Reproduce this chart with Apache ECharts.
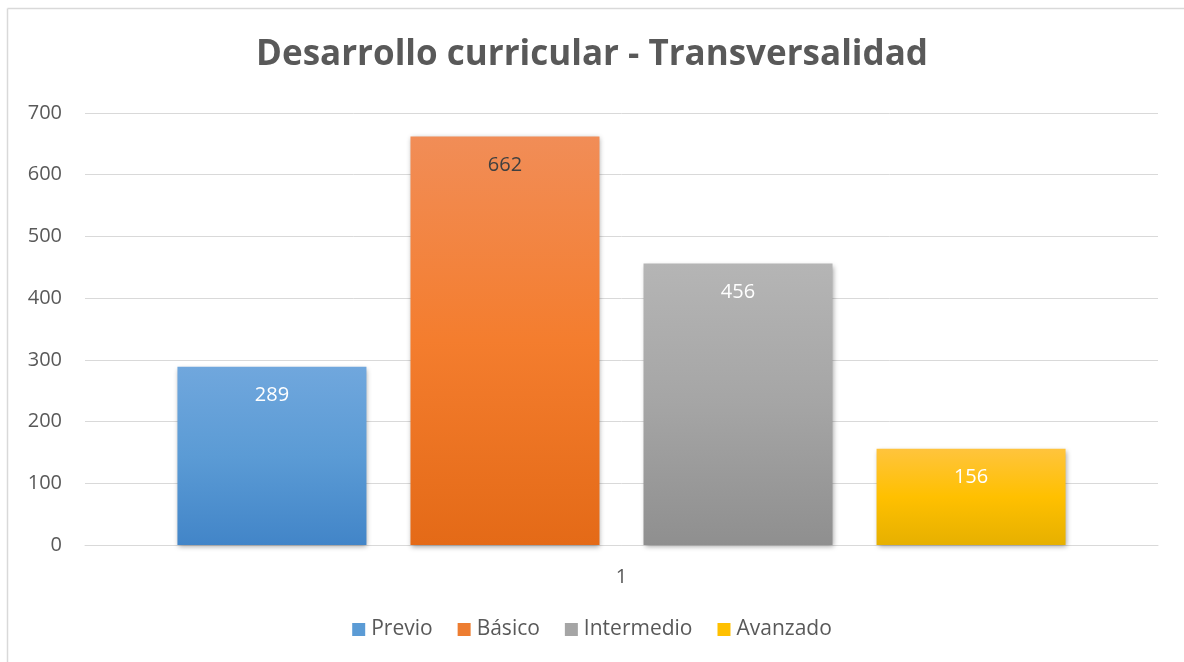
<!DOCTYPE html>
<html>
<head>
<meta charset="utf-8">
<script src="https://cdn.jsdelivr.net/npm/echarts@6/dist/echarts.min.js"></script>
<style>
html,body{margin:0;padding:0;background:#fff;}
#chart{width:1184px;height:662px;}
</style>
</head>
<body>
<div id="chart"></div>
<script>
const categories = ['1'];
const seriesNames = ['Previo', 'Básico', 'Intermedio', 'Avanzado'];
const seriesValues = [[289], [662], [456], [156]];
const yTicks = [0, 100, 200, 300, 400, 500, 600, 700];

const gradients = [
  ['#70a7dd', '#5b9bd5', '#4285c8'],
  ['#f18d57', '#f47d2e', '#e46a17'],
  ['#b5b5b5', '#a5a5a5', '#8f8f8f'],
  ['#ffc43d', '#ffc000', '#e6b000']
];
const labelColors = ['#ffffff', '#404040', '#ffffff', '#ffffff'];
const legendColors = ['#5b9bd5', '#ed7d31', '#a5a5a5', '#ffc000'];

const FONT = 'Open Sans';

const chart = echarts.init(document.getElementById('chart'));
const series = seriesNames.map((name, i) => ({
  name: name,
  type: 'bar',
  data: seriesValues[i],
  barWidth: 189,
  barGap: '23.3%',
  itemStyle: {
    color: new echarts.graphic.LinearGradient(0, 0, 0, 1, [
      {offset: 0, color: gradients[i][0]},
      {offset: 0.5, color: gradients[i][1]},
      {offset: 1, color: gradients[i][2]}
    ]),
    shadowColor: 'rgba(0,0,0,0.35)',
    shadowBlur: 5,
    shadowOffsetX: 1,
    shadowOffsetY: 2
  },
  label: {
    show: true,
    position: 'insideTop',
    distance: 19,
    color: labelColors[i],
    fontSize: 20,
    fontFamily: FONT
  }
}));

chart.setOption({
  backgroundColor: '#ffffff',
  animation: false,
  title: {
    text: 'Desarrollo curricular - Transversalidad',
    left: 'center',
    top: 33,
    textStyle: {fontSize: 35, fontWeight: 'bold', color: '#595959', fontFamily: FONT}
  },
  legend: {
    data: seriesNames.map((n, i) => ({name: n, itemStyle: {color: legendColors[i]}})),
    bottom: 17,
    left: 'center',
    icon: 'rect',
    itemWidth: 13,
    itemHeight: 13,
    itemGap: 25,
    textStyle: {fontSize: 21, color: '#595959', fontFamily: FONT, padding: [0,0,0,1]}
  },
  grid: {left: 85, right: 26, top: 113, bottom: 117, containLabel: false},
  xAxis: {
    type: 'category',
    data: categories,
    axisLine: {show: true, lineStyle: {color: '#d9d9d9', width: 1}},
    axisTick: {show: false},
    axisLabel: {fontSize: 20, color: '#595959', fontFamily: FONT, margin: 22}
  },
  yAxis: {
    type: 'value',
    min: yTicks[0],
    max: yTicks[yTicks.length - 1],
    interval: 100,
    axisLine: {show: false},
    axisTick: {show: false},
    splitLine: {lineStyle: {color: '#d9d9d9', width: 1}},
    axisLabel: {fontSize: 20, color: '#595959', fontFamily: FONT, margin: 23}
  },
  graphic: [
    {type: 'line', shape: {x1: 7.5, y1: 8.5, x2: 7.5, y2: 662}, style: {stroke: '#d9d9d9', lineWidth: 1.5}},
    {type: 'line', shape: {x1: 7.5, y1: 8.5, x2: 1184, y2: 8.5}, style: {stroke: '#d9d9d9', lineWidth: 1.5}}
  ],
  series: series
});
</script>
</body>
</html>
